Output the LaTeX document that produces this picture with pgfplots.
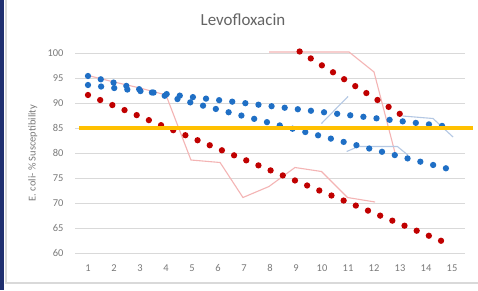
\documentclass[border=0pt]{standalone}
\usepackage{pgfplots}
\pgfplotsset{compat=1.18}
\usepackage{fontspec}
\setmainfont{Carlito}
\definecolor{gridgray}{HTML}{D9D9D9}
\definecolor{labelgray}{HTML}{7A7A7A}
\definecolor{titlegray}{HTML}{646464}
\definecolor{xlred}{HTML}{C00000}
\definecolor{xlblue}{HTML}{1F6FC5}
\definecolor{xlgold}{HTML}{FFC000}
\definecolor{fpink}{HTML}{F4B4B4}
\definecolor{fblue}{HTML}{B4C8E4}
\definecolor{navy}{HTML}{1F2F6F}
\begin{document}
\begin{tikzpicture}[x=1bp,y=1bp]
\useasboundingbox (0,0) rectangle (478,290);
\fill[white] (0,0) rectangle (478,290);
\draw[gridgray, line width=1.2bp] (6,290) -- (6,7) -- (478,7);
\fill[navy] (0,0) rectangle (4,290);
\begin{axis}[
  at={(75bp,37bp)}, anchor=south west,
  scale only axis, width=390bp, height=200bp,
  xmin=0.5, xmax=15.5, ymin=60, ymax=100,
  xtick={1,...,15}, ytick={60,65,...,100},
  ymajorgrids, grid style={draw=gridgray, line width=1bp},
  axis line style={draw=none}, tick style={draw=none},
  ticklabel style={font=\fontsize{10.5}{12}\selectfont, text=labelgray},
  /pgf/number format/assume math mode=true,
  yticklabel style={xshift=-8bp},
  xticklabel style={yshift=-8bp},
  clip=false,
  title={Levofloxacin},
  title style={at={(axis description cs:0.4308,1.135)}, anchor=center, font=\fontsize{17}{20}\selectfont, text=titlegray},
  ylabel={E. coli- \% Susceptibility},
  every axis y label/.style={at={(axis description cs:-0.108,0.5)}, rotate=90, anchor=center, font=\fontsize{10.5}{12}\selectfont, text=labelgray},
  trend/.style={line width=6.3bp, line cap=round},
  faint/.style={line width=1.1bp},
]
% faint data lines
\addplot[faint, fpink] coordinates {(1,95.5) (2,94.2) (3,93.0) (4,91.6) (4.96,78.6) (6.08,78.1) (6.96,71.1) (7.96,73.3) (8.96,77.1) (9.98,76.3) (10.98,71.1) (12.04,70.2)};
\addplot[faint, fpink] coordinates {(7.97,100.2) (11.04,100.2) (12.0,96.2) (12.8,80.2)};
\addplot[faint, fblue] coordinates {(9.98,85.9) (11.0,91.3)};
\addplot[faint, fblue] coordinates {(13.1,87.4) (14.27,86.9) (15.04,83.2)};
\addplot[faint, fblue] coordinates {(10.95,80.3) (11.4,81.3) (12.9,81.3) (13.3,79.6)};
% trendlines
\addplot[trend, xlred, dash pattern=on 0bp off 13.17bp] coordinates {(1,91.6) (14.6,62.4)};
\addplot[trend, xlred, dash pattern=on 0bp off 13.1bp] coordinates {(9.14,100.3) (13.0,87.8)};
\addplot[trend, xlblue, dash pattern=on 0bp off 13.2bp] coordinates {(1,95.4) (14.8,76.9)};
\addplot[trend, xlblue, dash pattern=on 0bp off 13.2bp] coordinates {(1,93.6) (14.65,85.4)};
% threshold
\addplot[xlgold, line width=3.8bp] coordinates {(0.65,85) (15.81,85)};
\end{axis}
\end{tikzpicture}
\end{document}
